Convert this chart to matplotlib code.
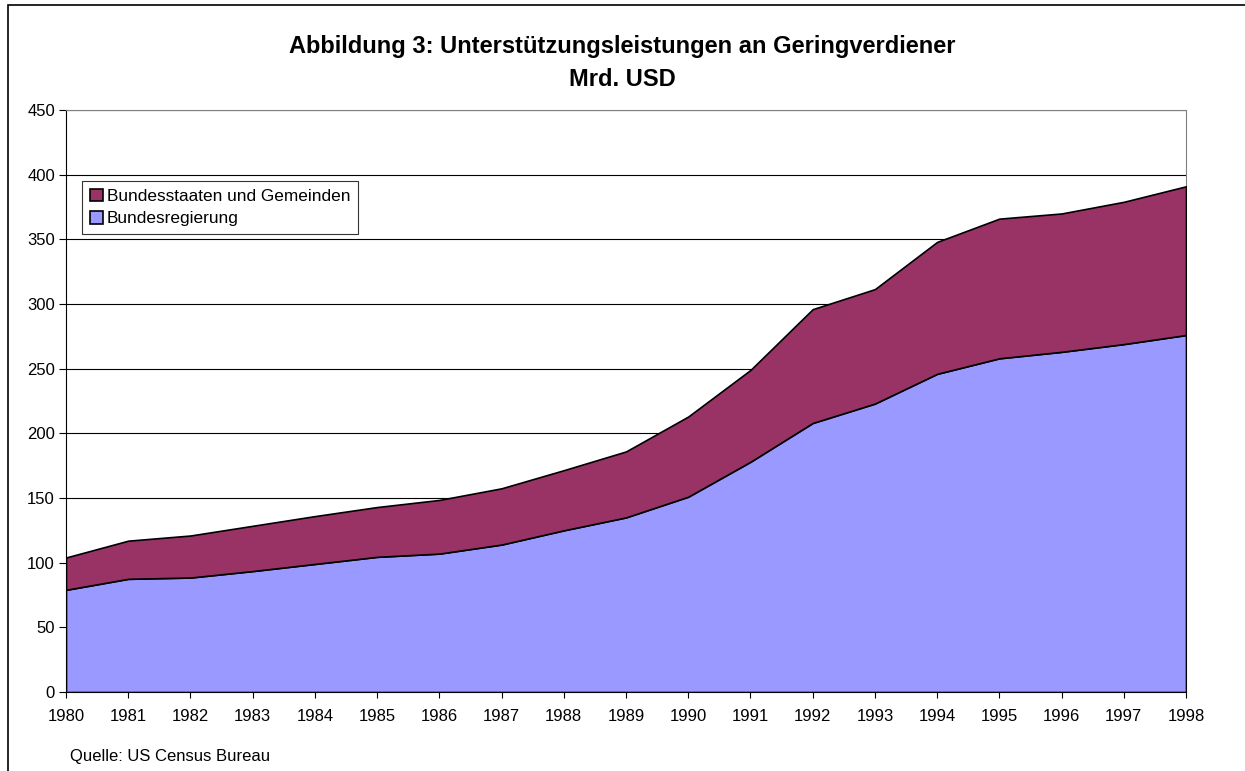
import matplotlib.pyplot as plt
from matplotlib.patches import Rectangle

plt.rcParams['font.family'] = ['Liberation Sans', 'DejaVu Sans']

# Mrd. USD
years = list(range(1980, 1999))
bund = [79, 87.5, 88.5, 93.5, 99, 104.5, 107, 114, 125, 135, 151, 178, 208, 223, 246, 258, 263, 269, 276]
laender = [25, 29.5, 32.5, 35, 37, 38.5, 41.5, 43.5, 46.5, 51, 62, 71, 88, 88.5, 102, 108, 107, 110, 115]

c_bund = '#9999FF'
c_laender = '#993366'

fig = plt.figure(figsize=(12.45, 7.71), dpi=100)
ax = fig.add_axes([66/1245, 1 - 692/771, 1120/1245, 582/771])

polys = ax.stackplot(years, bund, laender, colors=[c_bund, c_laender],
                     edgecolor='black', linewidth=1.2, zorder=3)

ax.set_xlim(1980, 1998)
ax.set_ylim(0, 450)
ax.set_xticks(years)
ax.set_yticks(range(0, 451, 50))
ax.tick_params(axis='both', labelsize=12, direction='out', width=0.8)
ax.tick_params(axis='x', length=4, pad=8)
ax.tick_params(axis='y', length=5, pad=3)
ax.grid(axis='y', color='black', linewidth=0.8, zorder=1)
ax.set_axisbelow(True)

for s in ['top', 'right']:
    ax.spines[s].set_color('#808080')
for s in ['left', 'bottom']:
    ax.spines[s].set_color('black')

leg = ax.legend([polys[1], polys[0]], ['Bundesstaaten und Gemeinden', 'Bundesregierung'],
                loc='upper left', bbox_to_anchor=(16/1120, 1 - 71/582),
                fontsize=12.4, frameon=True, fancybox=False, edgecolor='black',
                handlelength=0.75, handleheight=0.75, handletextpad=0.25,
                borderpad=0.45, labelspacing=0.4, borderaxespad=0)
leg.get_frame().set_linewidth(0.8)
leg.set_zorder(5)

fig.text(0.5, 1 - 46/771, 'Abbildung 3: Unterstützungsleistungen an Geringverdiener',
         ha='center', va='center', fontsize=17, fontweight='bold')
fig.text(0.5, 1 - 80/771, 'Mrd. USD', ha='center', va='center',
         fontsize=17, fontweight='bold')
fig.text(70/1245, 1 - 756/771, 'Quelle: US Census Bureau', ha='left', va='center', fontsize=12)

# outer chart frame
fig.patches.append(Rectangle((8/1245, -0.05), 1.1, 1 - 5/771 + 0.05,
                             transform=fig.transFigure, fill=False,
                             edgecolor='black', linewidth=1.2))

fig.savefig('out.png', dpi=100)
